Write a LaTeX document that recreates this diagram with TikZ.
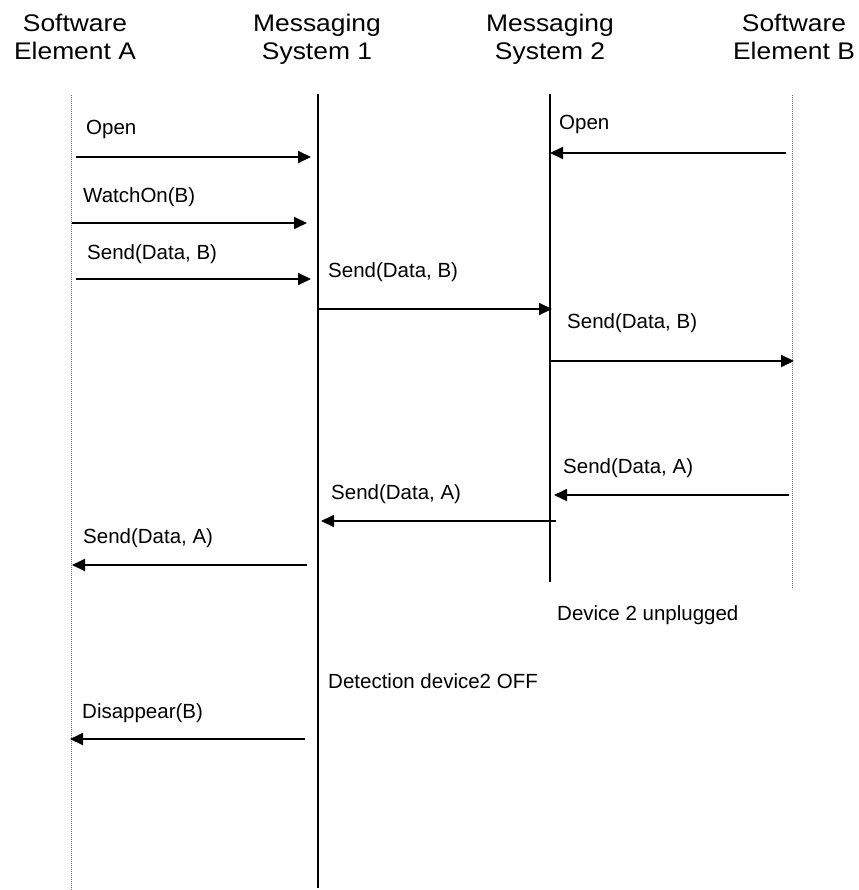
\documentclass[tikz,border=0pt]{standalone}
\usepackage{fontspec}
\setmainfont{Liberation Sans}
\newfontfamily\headfam[FakeStretch=1.1]{Liberation Sans}
\newfontfamily\lblfam{Liberation Sans}
\usetikzlibrary{arrows.meta}
\begin{document}
\begin{tikzpicture}[x=1pt,y=-1pt,
  msg/.style={line width=1.8pt,-{Triangle[length=13pt,width=12pt]}},
  life/.style={line width=2.6pt},
  ghost/.style={line width=0.8pt,black!60,dash pattern=on 0.8pt off 1.2pt},
  lbl/.style={anchor=base west,inner sep=0pt,font=\lblfam\fontsize{20.5}{24}\selectfont},
  head/.style={anchor=base,inner sep=0pt,align=center,font=\headfam\fontsize{24}{28}\selectfont}]
\useasboundingbox (0,0) rectangle (858,890);

% participants (anchor sits on the second line's baseline)
\node[head] (hA)  at (75,60)  {Software\\Element A};
\node[head] (hM1) at (317,60) {Messaging\\System 1};
\node[head] (hM2) at (550,60) {Messaging\\System 2};
\node[head] (hB)  at (794,60) {Software\\Element B};

% lifelines
\coordinate (Atop) at (71,95);  \coordinate (Abot) at (71,890);
\coordinate (Ptop) at (318,94); \coordinate (Pbot) at (318,888);
\coordinate (Qtop) at (550,94); \coordinate (Qbot) at (550,582);
\coordinate (Btop) at (792,95); \coordinate (Bbot) at (792,589);
\draw[ghost] (Atop) -- (Abot);
\draw[life]  (Ptop) -- (Pbot);
\draw[life]  (Qtop) -- (Qbot);
\draw[ghost] (Btop) -- (Bbot);

% messages
\coordinate (m1s) at (76,157);  \coordinate (m1e) at (311,157);
\draw[msg] (m1s) -- (m1e);
\node[lbl] (t1) at (86,135) {Open};

\coordinate (m2s) at (786,153); \coordinate (m2e) at (550,153);
\draw[msg] (m2s) -- (m2e);
\node[lbl] (t2) at (559,130) {Open};

\coordinate (m3s) at (72,223);  \coordinate (m3e) at (307,223);
\draw[msg] (m3s) -- (m3e);
\node[lbl] (t3) at (83,203) {WatchOn(B)};

\coordinate (m4s) at (76,279);  \coordinate (m4e) at (311,279);
\draw[msg] (m4s) -- (m4e);
\node[lbl] (t4) at (87,260) {Send(Data, B)};

\coordinate (m5s) at (318,309); \coordinate (m5e) at (552,309);
\draw[msg] (m5s) -- (m5e);
\node[lbl] (t5) at (328,277) {Send(Data, B)};

\coordinate (m6s) at (550,361); \coordinate (m6e) at (794,361);
\draw[msg] (m6s) -- (m6e);
\node[lbl] (t6) at (567,328) {Send(Data, B)};

\coordinate (m7s) at (789,495); \coordinate (m7e) at (554,495);
\draw[msg] (m7s) -- (m7e);
\node[lbl] (t7) at (563,473) {Send(Data, A)};

\coordinate (m8s) at (556,521); \coordinate (m8e) at (321,521);
\draw[msg] (m8s) -- (m8e);
\node[lbl] (t8) at (331,499) {Send(Data, A)};

\coordinate (m9s) at (307,565); \coordinate (m9e) at (72,565);
\draw[msg] (m9s) -- (m9e);
\node[lbl] (t9) at (83,543) {Send(Data, A)};

\coordinate (m10s) at (305,739); \coordinate (m10e) at (70,739);
\draw[msg] (m10s) -- (m10e);
\node[lbl] (t10) at (82,718) {Disappear(B)};

% events
\node[lbl] (ev1) at (557,620) {Device 2 unplugged};
\node[lbl] (ev2) at (328,688) {Detection device2 OFF};
\end{tikzpicture}
\end{document}
